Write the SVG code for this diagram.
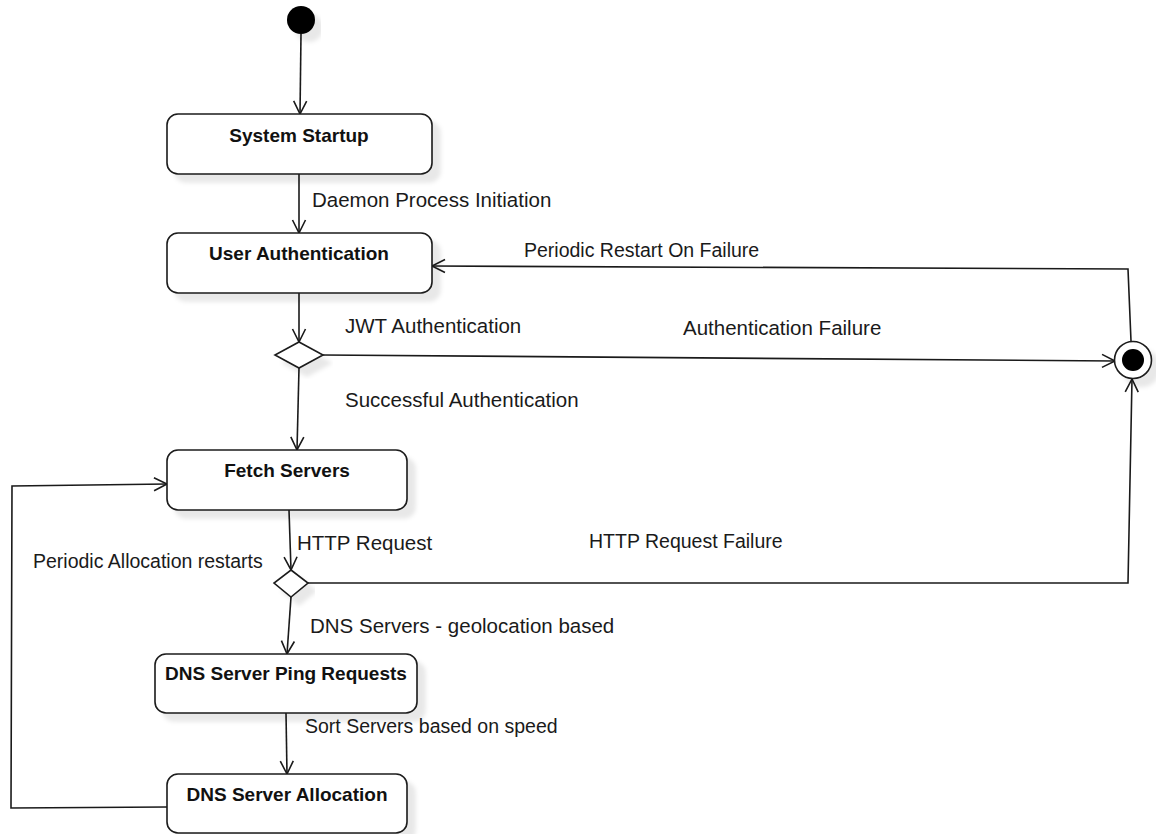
<svg xmlns="http://www.w3.org/2000/svg" width="1156" height="834" viewBox="0 0 1156 834">
  <defs>
    <style>
      .state { fill: #ffffff; stroke: #1a1a1a; stroke-width: 1.6; filter: url(#shadow); }
      .title { font-family: "Liberation Sans", Arial, sans-serif; font-weight: bold; font-size: 19px; fill: #111; text-anchor: middle; }
      .label { font-family: "Liberation Sans", Arial, sans-serif; font-size: 20.5px; fill: #1a1a1a; }
      .label.sm { font-size: 19.5px; }
      .edge { fill: none; stroke: #1a1a1a; stroke-width: 1.6; }
      .arrow { marker-end: url(#open); }
    </style>
    <filter id="shadow" x="-10%" y="-20%" width="130%" height="160%">
      <feDropShadow dx="8" dy="8" stdDeviation="2" flood-color="#000" flood-opacity="0.09"/>
    </filter>
    <marker id="open" markerWidth="16" markerHeight="16" refX="13" refY="7" orient="auto" markerUnits="userSpaceOnUse" overflow="visible">
      <path d="M0,0.5 L13,7 L0,13.5" fill="none" stroke="#1a1a1a" stroke-width="1.6"/>
    </marker>
  </defs>

  <rect width="1156" height="834" fill="#ffffff"/>

  <!-- transitions -->
  <g id="connectors">
    <path class="edge arrow" d="M301,34 L300,114"/>
    <path class="edge arrow" d="M299,174 L299,233"/>
    <path class="edge arrow" d="M299,293 L299,342"/>
    <path class="edge arrow" d="M299,368 L297,450"/>
    <path class="edge arrow" d="M323,355 L1115,361"/>
    <path class="edge arrow" d="M1131,341 L1128,269 L432,266"/>
    <path class="edge arrow" d="M289,510 L291,570"/>
    <path class="edge arrow" d="M308,583 L1128,583 L1132,379"/>
    <path class="edge arrow" d="M291,597 L287,654"/>
    <path class="edge arrow" d="M286,713 L287,774"/>
    <path class="edge arrow" d="M167,807 L11,808 L12,486 L167,484"/>

    <text class="label" x="312" y="207">Daemon Process Initiation</text>
    <text class="label sm" x="524" y="257">Periodic Restart On Failure</text>
    <text class="label" x="345" y="333">JWT Authentication</text>
    <text class="label" x="683" y="335">Authentication Failure</text>
    <text class="label" x="345" y="407">Successful Authentication</text>
    <text class="label" x="297" y="550">HTTP Request</text>
    <text class="label sm" x="589" y="548">HTTP Request Failure</text>
    <text class="label sm" x="33" y="568">Periodic Allocation restarts</text>
    <text class="label" x="310" y="633">DNS Servers - geolocation based</text>
    <text class="label sm" x="305" y="733">Sort Servers based on speed</text>
  </g>

  <!-- initial pseudo-state -->
  <g id="start">
    <circle cx="301" cy="20" r="14" fill="#000" filter="url(#shadow)"/>
  </g>

  <g id="system-startup">
    <rect class="state" x="167" y="114" width="265" height="60" rx="11"/>
    <text class="title" x="299" y="142">System Startup</text>
  </g>

  <g id="user-authentication">
    <rect class="state" x="167" y="233" width="265" height="60" rx="11"/>
    <text class="title" x="299" y="260">User Authentication</text>
  </g>

  <g id="auth-decision">
    <polygon class="state" points="299,342 323,355 299,368 275,355"/>
  </g>

  <!-- final state -->
  <g id="end">
    <circle cx="1133" cy="360" r="18.5" fill="#fff" stroke="#1a1a1a" stroke-width="1.6" filter="url(#shadow)"/>
    <circle cx="1133" cy="360" r="11" fill="#000"/>
  </g>

  <g id="fetch-servers">
    <rect class="state" x="167" y="450" width="240" height="60" rx="11"/>
    <text class="title" x="287" y="477">Fetch Servers</text>
  </g>

  <g id="http-decision">
    <polygon class="state" points="291,570 308,583 291,597 274,583"/>
  </g>

  <g id="dns-ping">
    <rect class="state" x="155" y="654" width="262" height="59" rx="11"/>
    <text class="title" x="286" y="680">DNS Server Ping Requests</text>
  </g>

  <g id="dns-allocation">
    <rect class="state" x="167" y="774" width="240" height="59" rx="11"/>
    <text class="title" x="287" y="801">DNS Server Allocation</text>
  </g>
</svg>
